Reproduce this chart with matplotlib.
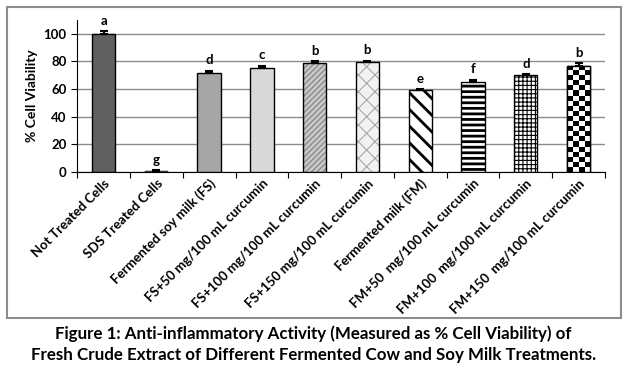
import numpy as np
import matplotlib.pyplot as plt
from matplotlib.patches import Rectangle

plt.rcParams["font.family"] = ["Lato", "DejaVu Sans"]
plt.rcParams["font.weight"] = "bold"

categories = ["Not Treated Cells", "SDS Treated Cells", "Fermented soy milk (FS)",
              "FS+50 mg/100 mL curcumin", "FS+100 mg/100 mL curcumin",
              "FS+150 mg/100 mL curcumin", "Fermented milk (FM)",
              "FM+50  mg/100 mL curcumin", "FM+100  mg/100 mL curcumin",
              "FM+150  mg/100 mL curcumin"]
viability = [100, 0.3, 71.5, 75.1, 78.8, 79.5, 59.4, 65.0, 70.0, 76.8]
errors = [2.0, 1.2, 1.8, 1.8, 1.6, 1.0, 0.8, 1.8, 1.0, 1.8]
letters = ["a", "g", "d", "c", "b", "b", "e", "f", "d", "b"]

# fill, hatch, hatch colour per bar
styles = [("#606060", None, None), ("#606060", None, None), ("#a6a6a6", None, None),
          ("#d9d9d9", None, None), ("#c8c8c8", "//////", "#808080"),
          ("#f2f2f2", "xx", "#a8a8a8"), ("white", "\\\\", "black"),
          ("white", "---", "black"), ("white", "++++", "black"), ("checker", None, None)]

fig = plt.figure(figsize=(6.27, 3.68), dpi=100)
fig.patches.append(Rectangle((7 / 627, 50 / 368), 614 / 627, 311 / 368, transform=fig.transFigure,
                             fill=False, edgecolor="#8c8c8c", linewidth=1.5))
ax = fig.add_axes([0.123, 0.533, 0.842, 0.413])

x = np.arange(len(categories)) + 0.5
w = 0.44
for i, (fc, hatch, hc) in enumerate(styles):
    if fc == "checker":
        b = ax.bar(x[i], viability[i], w, color="white", edgecolor="black", linewidth=1, zorder=3)[0]
        rows, cols = 21, 4
        board = np.indices((rows, cols)).sum(0) % 2
        im = ax.imshow(board, cmap="gray", extent=(b.get_x(), b.get_x() + b.get_width(), 0, b.get_height()),
                       aspect="auto", interpolation="nearest", zorder=3)
        im.set_clip_path(b)
        ax.bar(x[i], viability[i], w, fill=False, edgecolor="black", linewidth=1, zorder=4)
        continue
    if hatch:
        hb = ax.bar(x[i], viability[i], w, color=fc, edgecolor=hc, hatch=hatch, linewidth=0, zorder=3)[0]
        if hasattr(hb, "set_hatch_linewidth"):
            hb.set_hatch_linewidth(2.0 if hatch in ("\\\\", "---") else 0.8)
        ax.bar(x[i], viability[i], w, fill=False, edgecolor="black", linewidth=1, zorder=4)
    else:
        lw = 0.3 if viability[i] < 1 else 1
        ax.bar(x[i], viability[i], w, color=fc, edgecolor="black", linewidth=lw, zorder=3)

ax.errorbar(x, viability, yerr=[np.zeros(len(errors)), errors], fmt="none", ecolor="black",
            elinewidth=1.5, capsize=3, capthick=1.5, zorder=5)
for xi, v, e, t in zip(x, viability, errors, letters):
    ax.text(xi, v + e + 3, t, ha="center", va="bottom", fontsize=9.5, fontweight="bold")

ax.set_xlim(0, len(categories))
ax.set_ylim(0, 110)
ax.set_yticks(range(0, 101, 20))
ax.set_xticks(np.arange(len(categories) + 1))
ax.set_xticklabels([])
ax.set_xticks(x, minor=True)
ax.set_xticklabels(categories, minor=True, rotation=45, ha="right", rotation_mode="anchor",
                   fontsize=9.5, fontweight="bold")
ax.tick_params(axis="x", which="minor", length=0, pad=4)
ax.tick_params(axis="x", which="major", length=4, direction="out")
ax.tick_params(axis="y", labelsize=9.5, length=4)
for lbl in ax.get_yticklabels():
    lbl.set_fontweight("bold")
ax.set_ylabel("% Cell Viability", fontsize=10, fontweight="bold")
ax.grid(axis="y", color="#8c8c8c", linewidth=1, zorder=0)
ax.set_axisbelow(True)
for s in ["top", "right"]:
    ax.spines[s].set_visible(False)

fig.text(0.5, 0.093, "Figure 1: Anti-inflammatory Activity (Measured as % Cell Viability) of",
         ha="center", va="center", fontsize=12.2, fontweight="bold")
fig.text(0.5, 0.035, "Fresh Crude Extract of Different Fermented Cow and Soy Milk Treatments.",
         ha="center", va="center", fontsize=12.2, fontweight="bold")

fig.savefig("out.png", dpi=100)
